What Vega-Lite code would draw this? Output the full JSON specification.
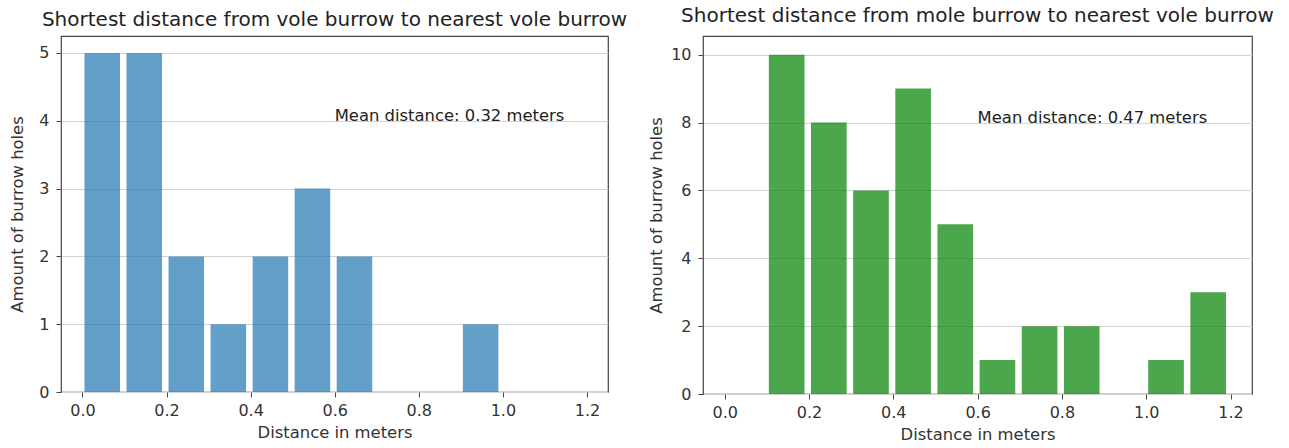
{
  "$schema": "https://vega.github.io/schema/vega-lite/v6.json",
  "background": "white",
  "padding": {"left": 9, "top": 5, "right": 5, "bottom": 5},
  "config": {
    "font": "DejaVu Sans",
    "view": {"stroke": "#444", "strokeWidth": 1.2},
    "axis": {
      "labelFont": "DejaVu Sans",
      "labelFontSize": 16,
      "labelColor": "#333",
      "titleFont": "DejaVu Sans",
      "titleFontSize": 16.4,
      "titleFontWeight": "normal",
      "titleColor": "#333",
      "tickColor": "#444",
      "tickSize": 5,
      "domain": false,
      "grid": false
    },
    "axisX": {"labelPadding": 5, "titlePadding": 6},
    "axisY": {"labelPadding": 7, "titlePadding": 13, "grid": true, "gridColor": "#d3d3d3", "gridWidth": 1},
    "title": {"font": "DejaVu Sans", "fontSize": 20, "fontWeight": "normal", "color": "#222", "anchor": "middle"},
    "concat": {"spacing": 20}
  },
  "hconcat": [
    {
      "title": {"text": "Shortest distance from vole burrow to nearest vole burrow", "offset": 6.5},
      "width": 547,
      "height": 356,
      "layer": [
        {
          "data": {
            "values": [
              {"bin_start": 0.0, "bin_end": 0.1, "count": 5},
              {"bin_start": 0.1, "bin_end": 0.2, "count": 5},
              {"bin_start": 0.2, "bin_end": 0.3, "count": 2},
              {"bin_start": 0.3, "bin_end": 0.4, "count": 1},
              {"bin_start": 0.4, "bin_end": 0.5, "count": 2},
              {"bin_start": 0.5, "bin_end": 0.6, "count": 3},
              {"bin_start": 0.6, "bin_end": 0.7, "count": 2},
              {"bin_start": 0.7, "bin_end": 0.8, "count": 0},
              {"bin_start": 0.8, "bin_end": 0.9, "count": 0},
              {"bin_start": 0.9, "bin_end": 1.0, "count": 1},
              {"bin_start": 1.0, "bin_end": 1.1, "count": 0},
              {"bin_start": 1.1, "bin_end": 1.2, "count": 0}
            ]
          },
          "mark": {"type": "bar", "color": "#1f77b4", "opacity": 0.7, "xOffset": 2, "x2Offset": -4.5},
          "encoding": {
            "x": {
              "field": "bin_start", "type": "quantitative",
              "scale": {"domain": [-0.051, 1.25], "nice": false, "zero": false},
              "axis": {"title": "Distance in meters", "values": [0, 0.2, 0.4, 0.6, 0.8, 1.0, 1.2], "format": ".1f"}
            },
            "x2": {"field": "bin_end"},
            "y": {
              "field": "count", "type": "quantitative",
              "scale": {"domain": [0, 5.25], "nice": false},
              "axis": {"title": "Amount of burrow holes", "values": [0, 1, 2, 3, 4, 5], "format": "d"}
            },
            "y2": {"datum": 0}
          }
        },
        {
          "data": {"values": [{"x": 0.6, "y": 4, "label": "Mean distance: 0.32 meters"}]},
          "mark": {"type": "text", "align": "left", "baseline": "alphabetic", "fontSize": 16.4, "color": "#222"},
          "encoding": {
            "x": {"field": "x", "type": "quantitative"},
            "y": {"field": "y", "type": "quantitative"},
            "text": {"field": "label"}
          }
        }
      ]
    },
    {
      "title": {"text": "Shortest distance from mole burrow to nearest vole burrow", "offset": 10},
      "width": 549,
      "height": 358,
      "layer": [
        {
          "data": {
            "values": [
              {"bin_start": 0.0, "bin_end": 0.1, "count": 0},
              {"bin_start": 0.1, "bin_end": 0.2, "count": 10},
              {"bin_start": 0.2, "bin_end": 0.3, "count": 8},
              {"bin_start": 0.3, "bin_end": 0.4, "count": 6},
              {"bin_start": 0.4, "bin_end": 0.5, "count": 9},
              {"bin_start": 0.5, "bin_end": 0.6, "count": 5},
              {"bin_start": 0.6, "bin_end": 0.7, "count": 1},
              {"bin_start": 0.7, "bin_end": 0.8, "count": 2},
              {"bin_start": 0.8, "bin_end": 0.9, "count": 2},
              {"bin_start": 0.9, "bin_end": 1.0, "count": 0},
              {"bin_start": 1.0, "bin_end": 1.1, "count": 1},
              {"bin_start": 1.1, "bin_end": 1.2, "count": 3}
            ]
          },
          "mark": {"type": "bar", "color": "#008000", "opacity": 0.7, "xOffset": 2, "x2Offset": -4.5},
          "encoding": {
            "x": {
              "field": "bin_start", "type": "quantitative",
              "scale": {"domain": [-0.0515, 1.251], "nice": false, "zero": false},
              "axis": {"title": "Distance in meters", "values": [0, 0.2, 0.4, 0.6, 0.8, 1.0, 1.2], "format": ".1f"}
            },
            "x2": {"field": "bin_end"},
            "y": {
              "field": "count", "type": "quantitative",
              "scale": {"domain": [0, 10.55], "nice": false},
              "axis": {"title": "Amount of burrow holes", "values": [0, 2, 4, 6, 8, 10], "format": "d", "titlePadding": 6}
            },
            "y2": {"datum": 0}
          }
        },
        {
          "data": {"values": [{"x": 0.6, "y": 8, "label": "Mean distance: 0.47 meters"}]},
          "mark": {"type": "text", "align": "left", "baseline": "alphabetic", "fontSize": 16.4, "color": "#222"},
          "encoding": {
            "x": {"field": "x", "type": "quantitative"},
            "y": {"field": "y", "type": "quantitative"},
            "text": {"field": "label"}
          }
        }
      ]
    }
  ]
}
